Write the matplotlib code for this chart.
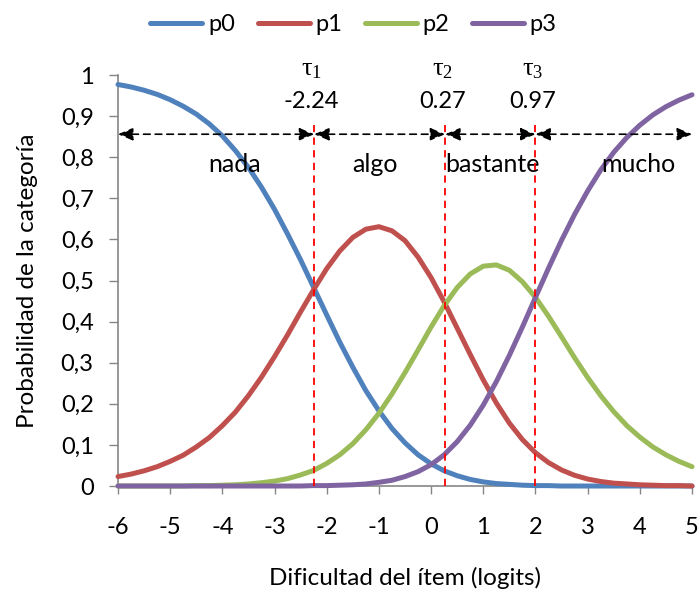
import matplotlib
matplotlib.use("Agg")
import matplotlib.pyplot as plt

# Probability curves (step 0.25 logits)
x_logits = [-6.0, -5.75, -5.5, -5.25, -5.0, -4.75, -4.5, -4.25, -4.0, -3.75, -3.5, -3.25,
            -3.0, -2.75, -2.5, -2.25, -2.0, -1.75, -1.5, -1.25, -1.0, -0.75, -0.5, -0.25,
            0.0, 0.25, 0.5, 0.75, 1.0, 1.25, 1.5, 1.75, 2.0, 2.25, 2.5, 2.75, 3.0, 3.25,
            3.5, 3.75, 4.0, 4.25, 4.5, 4.75, 5.0]
p0 = [0.977, 0.971, 0.963, 0.953, 0.940, 0.924, 0.905, 0.881, 0.852, 0.816, 0.775, 0.727,
      0.673, 0.613, 0.550, 0.483, 0.416, 0.350, 0.289, 0.232, 0.183, 0.140, 0.105, 0.076,
      0.054, 0.037, 0.025, 0.016, 0.010, 0.006, 0.004, 0.002, 0.001, 0.001, 0.000, 0.000,
      0.000, 0.000, 0.000, 0.000, 0.000, 0.000, 0.000, 0.000, 0.000]
p1 = [0.023, 0.029, 0.037, 0.047, 0.060, 0.075, 0.095, 0.118, 0.147, 0.180, 0.220, 0.265,
      0.315, 0.368, 0.424, 0.478, 0.529, 0.572, 0.605, 0.625, 0.631, 0.621, 0.597, 0.557,
      0.507, 0.448, 0.384, 0.320, 0.258, 0.202, 0.153, 0.113, 0.081, 0.057, 0.039, 0.026,
      0.017, 0.011, 0.007, 0.005, 0.003, 0.002, 0.001, 0.001, 0.000]
p2 = [0.000, 0.000, 0.000, 0.000, 0.000, 0.000, 0.001, 0.001, 0.002, 0.003, 0.005, 0.008,
      0.012, 0.018, 0.027, 0.038, 0.055, 0.076, 0.103, 0.137, 0.177, 0.224, 0.276, 0.331,
      0.387, 0.439, 0.483, 0.516, 0.535, 0.538, 0.525, 0.497, 0.459, 0.413, 0.363, 0.312,
      0.264, 0.220, 0.181, 0.147, 0.119, 0.095, 0.076, 0.060, 0.047]
p3 = [0.000, 0.000, 0.000, 0.000, 0.000, 0.000, 0.000, 0.000, 0.000, 0.000, 0.000, 0.000,
      0.000, 0.000, 0.000, 0.001, 0.001, 0.002, 0.003, 0.005, 0.009, 0.014, 0.023, 0.035,
      0.052, 0.076, 0.108, 0.148, 0.197, 0.254, 0.318, 0.387, 0.459, 0.530, 0.598, 0.661,
      0.718, 0.769, 0.812, 0.848, 0.878, 0.903, 0.923, 0.939, 0.952]

series_names = ["p0", "p1", "p2", "p3"]
series_colors = ["#4F81BD", "#C0504D", "#9BBB59", "#8064A2"]

# thresholds: where the dashed lines sit, and the values printed above them
tau_pos = [-2.24, 0.27, 2.0]
tau_text = ["-2.24", "0.27", "0.97"]
categories = ["nada", "algo", "bastante", "mucho"]
category_x = [-3.76, -1.07, 1.17, 3.98]

x_ticks = [-6, -5, -4, -3, -2, -1, 0, 1, 2, 3, 4, 5]
y_ticks = [0, 0.1, 0.2, 0.3, 0.4, 0.5, 0.6, 0.7, 0.8, 0.9, 1]
y_tick_labels = ["0", "0,1", "0,2", "0,3", "0,4", "0,5", "0,6", "0,7", "0,8", "0,9", "1"]

plt.rcParams["font.family"] = ["Lato", "DejaVu Sans"]
# upright serif tau like the Symbol font in the original
plt.rcParams["mathtext.fontset"] = "custom"
plt.rcParams["mathtext.it"] = "Liberation Serif"
plt.rcParams["mathtext.rm"] = "Liberation Serif"

fig = plt.figure(figsize=(7.0, 5.97), dpi=100)
ax = fig.add_axes([0.1686, 0.1859, 0.82, 0.6884])

for ys, name, col in zip([p0, p1, p2, p3], series_names, series_colors):
    ax.plot(x_logits, ys, color=col, lw=3.6, label=name, clip_on=False,
            solid_capstyle="round", solid_joinstyle="round", zorder=3)

ax.set_xlim(-6, 5)
ax.set_ylim(0, 1)

# red dashed threshold lines
for t in tau_pos:
    ax.plot([t, t], [0, 0.878], color="#FF0000", lw=1.3, ls=(0, (4, 3)), zorder=4)

# dashed double arrows between thresholds
bounds = [-6] + tau_pos + [5]
for a, b in zip(bounds[:-1], bounds[1:]):
    ax.annotate("", xy=(b, 0.856), xytext=(a, 0.856), annotation_clip=False,
                arrowprops=dict(arrowstyle="<|-|>,head_length=0.9,head_width=0.38",
                                color="black", lw=1.2, ls=(0, (4, 3)),
                                shrinkA=0, shrinkB=0), zorder=5)

for i, (t, lab) in enumerate(zip(tau_pos, tau_text)):
    ax.text(t - 0.05, 1.017, r"$\tau_{%d}$" % (i + 1), ha="center", va="center",
            fontsize=19, clip_on=False)
    ax.text(t - 0.05, 0.935, lab, ha="center", va="center", fontsize=17, clip_on=False)

for cx, cat in zip(category_x, categories):
    ax.text(cx, 0.783, cat, ha="center", va="center", fontsize=18)

ax.set_xticks(x_ticks)
ax.set_xticklabels([str(v) for v in x_ticks])
ax.set_yticks(y_ticks)
ax.set_yticklabels(y_tick_labels)
ax.tick_params(axis="x", direction="out", length=6, width=1, color="#868686",
               labelsize=17, pad=16)
ax.tick_params(axis="y", direction="out", length=6.5, width=1, color="#868686",
               labelsize=17, pad=11)

for side in ["top", "right"]:
    ax.spines[side].set_visible(False)
for side in ["left", "bottom"]:
    ax.spines[side].set_color("#868686")
    ax.spines[side].set_linewidth(1.2)

ax.set_xlabel("Dificultad del ítem (logits)", fontsize=17.5, labelpad=21)
ax.set_ylabel("Probabilidad de la categoría", fontsize=17.5, labelpad=16)

fig.legend(loc="upper center", bbox_to_anchor=(0.505, 1.012), ncol=4, frameon=False,
           fontsize=17, handlelength=2.2, columnspacing=0.95, handletextpad=0.25)

fig.savefig("out.png", dpi=100)
